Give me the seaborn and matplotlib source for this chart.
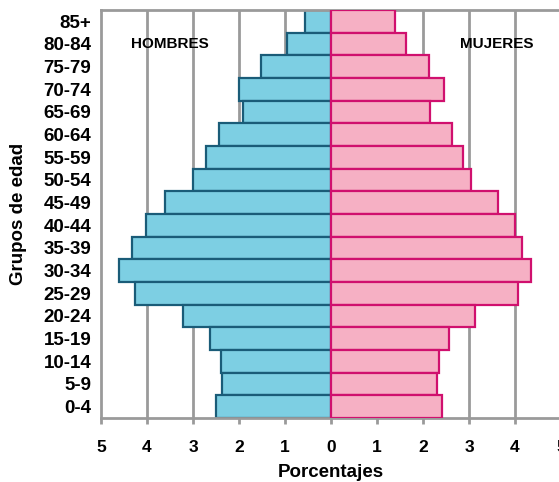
import matplotlib
matplotlib.use("Agg")
from matplotlib import pyplot as plt
import matplotlib.transforms as mtransforms
import pandas as pd
import seaborn as sb

ages = ["85+", "80-84", "75-79", "70-74", "65-69", "60-64", "55-59", "50-54",
        "45-49", "40-44", "35-39", "30-34", "25-29", "20-24", "15-19",
        "10-14", "5-9", "0-4"]
hombres = [0.56, 0.96, 1.52, 1.99, 1.92, 2.43, 2.72, 3.01, 3.61, 4.03,
           4.32, 4.61, 4.26, 3.21, 2.63, 2.40, 2.38, 2.50]
mujeres = [1.39, 1.63, 2.14, 2.46, 2.15, 2.64, 2.88, 3.04, 3.64, 3.99,
           4.15, 4.34, 4.06, 3.13, 2.57, 2.34, 2.30, 2.41]
xticks = [-5, -4, -3, -2, -1, 0, 1, 2, 3, 4, 5]

data = pd.DataFrame({"edad": ages, "hombres": [-v for v in hombres], "mujeres": mujeres})

sb.set_style("white")
plt.rcParams["font.family"] = ["Liberation Sans", "DejaVu Sans"]
plt.rcParams["font.weight"] = "bold"
plt.rcParams["text.color"] = "black"
plt.rcParams["axes.labelcolor"] = "black"
plt.rcParams["xtick.labelcolor"] = "black"
plt.rcParams["ytick.labelcolor"] = "black"

fig = plt.figure(figsize=(5.59, 4.82), dpi=100)
ax = fig.add_axes([0.1807, 0.1328, 0.8229, 0.8465])

grey = "#9a9a9a"
for x in xticks[1:-1]:
    if x != 0:
        ax.axvline(x, color=grey, lw=2, zorder=0)

sb.barplot(data=data, x="hombres", y="edad", order=ages, orient="h", width=1.0,
           color="#7dcfe3", edgecolor="#1a5c78", linewidth=1.6, saturation=1, ax=ax, zorder=2)
sb.barplot(data=data, x="mujeres", y="edad", order=ages, orient="h", width=1.0,
           color="#f6b0c4", edgecolor="#d0106e", linewidth=1.6, saturation=1, ax=ax, zorder=3)

ax.set_xlim(-5, 5)
ax.set_ylim(len(ages) - 0.5, -0.5)
ax.set_xticks(xticks)
ax.set_xticklabels([str(abs(x)) for x in xticks], fontsize=12.5, fontweight="bold")
shift = mtransforms.ScaledTranslation(-9 / 100, 0, fig.dpi_scale_trans)
for lab in ax.get_xticklabels():
    lab.set_transform(lab.get_transform() + shift)
ax.tick_params(axis="x", direction="out", length=4, width=2, color=grey, pad=12, bottom=True)
ax.tick_params(axis="y", length=0, pad=7)
for lab in ax.get_yticklabels():
    lab.set_fontsize(13.5)
    lab.set_fontweight("bold")

ax.set_xlabel("Porcentajes", fontsize=13.5, fontweight="bold", labelpad=6)
ax.set_ylabel("Grupos de edad", fontsize=13.5, fontweight="bold", labelpad=12)

ax.text(-3.5, 1, "HOMBRES", ha="center", va="center", fontsize=11, fontweight="bold")
ax.text(3.6, 1, "MUJERES", ha="center", va="center", fontsize=11, fontweight="bold")

for s in ["left", "top", "bottom"]:
    ax.spines[s].set_color(grey)
    ax.spines[s].set_linewidth(2)
ax.spines["right"].set_visible(False)

fig.savefig("out.png", dpi=100)
